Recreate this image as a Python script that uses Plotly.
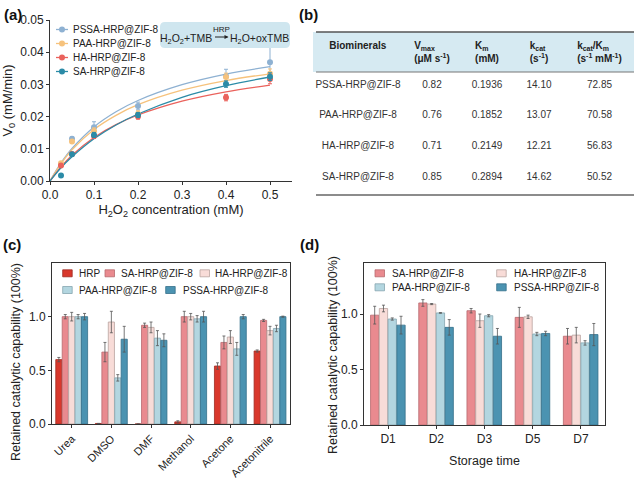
import plotly.graph_objects as go

W, H = 636, 479
def px(x): return x / W
def py(y): return 1 - y / H

FONT = "Arial, Liberation Sans, sans-serif"

# ---------------- Panel (a) data ----------------
conc = [0.025, 0.05, 0.1, 0.2, 0.4, 0.5]
v_pssa = [0.0051, 0.0131, 0.0167, 0.0233, 0.0325, 0.0369]
v_paa = [0.0055, 0.0123, 0.0155, 0.0208, 0.0323, 0.0333]
v_ha = [0.0048, 0.0084, 0.0140, 0.0200, 0.0259, 0.0317]
v_sa = [0.0017, 0.0083, 0.0143, 0.0205, 0.0301, 0.0324]
e_pssa = [0.0006, 0.0006, 0.0017, 0.0012, 0.0022, 0.0049]
e_paa = [0.0005, 0.0006, 0.0010, 0.0010, 0.0012, 0.0015]
e_ha = [0.0004, 0.0005, 0.0008, 0.0008, 0.0010, 0.0015]
e_sa = [0.0004, 0.0005, 0.0008, 0.0008, 0.0010, 0.0012]

fit_conc = [0, 0.025, 0.05, 0.1, 0.15, 0.2, 0.3, 0.4, 0.5]
fit_pssa = [0, 0.0056, 0.0101, 0.0168, 0.0215, 0.0250, 0.0299, 0.0332, 0.0355]
fit_paa = [0, 0.0054, 0.0097, 0.0160, 0.0204, 0.0237, 0.0282, 0.0312, 0.0333]
fit_ha = [0, 0.0044, 0.0080, 0.0135, 0.0175, 0.0205, 0.0248, 0.0277, 0.0298]
fit_sa = [0, 0.0041, 0.0075, 0.0131, 0.0174, 0.0208, 0.0260, 0.0296, 0.0323]

a_names = ["PSSA-HRP@ZIF-8", "PAA-HRP@ZIF-8", "HA-HRP@ZIF-8", "SA-HRP@ZIF-8"]
a_colors = ["#8eb1d2", "#f6c27c", "#ea625c", "#2b8ba7"]

# ---------------- Panel (b) data ----------------
tbl_headers = ["<b>Biominerals</b>",
               "<b>V<sub>max</sub><br>(μM s<sup>-1</sup>)</b>",
               "<b>K<sub>m</sub><br>(mM)</b>",
               "<b>k<sub>cat</sub><br>(s<sup>-1</sup>)</b>",
               "<b>k<sub>cat</sub>/K<sub>m</sub><br>(s<sup>-1</sup> mM<sup>-1</sup>)</b>"]
tbl_names = ["PSSA-HRP@ZIF-8", "PAA-HRP@ZIF-8", "HA-HRP@ZIF-8", "SA-HRP@ZIF-8"]
tbl_vmax = ["0.82", "0.76", "0.71", "0.85"]
tbl_km = ["0.1936", "0.1852", "0.2149", "0.2894"]
tbl_kcat = ["14.10", "13.07", "12.21", "14.62"]
tbl_eff = ["72.85", "70.58", "56.83", "50.52"]

# ---------------- Panel (c) data ----------------
solvents = ["Urea", "DMSO", "DMF", "Methanol", "Acetone", "Acetonitrile"]
c_names = ["HRP", "SA-HRP@ZIF-8", "HA-HRP@ZIF-8", "PAA-HRP@ZIF-8", "PSSA-HRP@ZIF-8"]
c_vals = [
    [0.60, 0.005, 0.0, 0.02, 0.54, 0.68],
    [1.00, 0.67, 0.92, 1.00, 0.76, 0.965],
    [1.00, 0.95, 0.90, 1.00, 0.81, 0.87],
    [1.00, 0.43, 0.80, 0.98, 0.70, 0.89],
    [1.00, 0.79, 0.78, 1.00, 1.00, 1.00],
]
c_errs = [
    [0.02, 0.0, 0.0, 0.01, 0.03, 0.01],
    [0.02, 0.09, 0.02, 0.05, 0.06, 0.01],
    [0.04, 0.10, 0.05, 0.03, 0.06, 0.04],
    [0.02, 0.03, 0.07, 0.03, 0.06, 0.03],
    [0.03, 0.12, 0.06, 0.05, 0.02, 0.005],
]
bar_colors = {"HRP": "#d9382c", "SA-HRP@ZIF-8": "#e98a8f", "HA-HRP@ZIF-8": "#f8dcd8",
              "PAA-HRP@ZIF-8": "#b3d6e0", "PSSA-HRP@ZIF-8": "#4b93b1"}
bar_lines = {"HRP": "#9e2b22", "SA-HRP@ZIF-8": "#b66a6f", "HA-HRP@ZIF-8": "#b9a3a0",
             "PAA-HRP@ZIF-8": "#86a6b0", "PSSA-HRP@ZIF-8": "#35708a"}

# ---------------- Panel (d) data ----------------
days = ["D1", "D2", "D3", "D5", "D7"]
d_names = ["SA-HRP@ZIF-8", "HA-HRP@ZIF-8", "PAA-HRP@ZIF-8", "PSSA-HRP@ZIF-8"]
d_vals = [
    [0.99, 1.10, 1.03, 0.97, 0.80],
    [1.05, 1.09, 0.94, 0.975, 0.81],
    [0.955, 1.01, 0.985, 0.82, 0.74],
    [0.90, 0.88, 0.80, 0.825, 0.815],
]
d_errs = [
    [0.08, 0.03, 0.02, 0.09, 0.07],
    [0.03, 0.005, 0.06, 0.015, 0.07],
    [0.01, 0.003, 0.01, 0.015, 0.02],
    [0.08, 0.07, 0.07, 0.02, 0.10],
]
retained_title = "Retained catalytic capability (100%)"

fig = go.Figure()

# ----- (a) traces -----
fits = [fit_pssa, fit_paa, fit_ha, fit_sa]
pts = [v_pssa, v_paa, v_ha, v_sa]
errs = [e_pssa, e_paa, e_ha, e_sa]
for name, col, f in zip(a_names, a_colors, fits):
    fig.add_trace(go.Scatter(x=fit_conc, y=f, mode="lines", line=dict(color=col, width=1.3, shape="spline"),
                             xaxis="x", yaxis="y", showlegend=False, name=name))
for name, col, v, e in zip(a_names, a_colors, pts, errs):
    fig.add_trace(go.Scatter(x=conc, y=v, mode="markers", marker=dict(color=col, size=6),
                             error_y=dict(type="data", array=e, color=col, thickness=1, width=2),
                             xaxis="x", yaxis="y", showlegend=False, name=name))

# ----- (b) table -----
fig.add_trace(go.Table(
    domain=dict(x=[px(313), px(634)], y=[py(198), py(32)]),
    columnwidth=[90, 58, 52, 52, 69],
    header=dict(values=tbl_headers, fill_color="#d6eaf2", line=dict(color="rgba(0,0,0,0)", width=0),
                align="center", font=dict(size=10, color="#222", family=FONT), height=40),
    cells=dict(values=[tbl_names, tbl_vmax, tbl_km, tbl_kcat, tbl_eff], fill_color="white",
               line=dict(color="rgba(0,0,0,0)", width=0), align="center",
               font=dict(size=10, color="#333", family=FONT), height=30.75),
))

# ----- (c) bars -----
for i, (name, v, e) in enumerate(zip(c_names, c_vals, c_errs)):
    fig.add_trace(go.Bar(x=solvents, y=v, name=name, xaxis="x2", yaxis="y2",
                         width=0.155, offset=-0.405 + i * 0.162,
                         marker=dict(color=bar_colors[name], line=dict(color=bar_lines[name], width=0.8)),
                         error_y=dict(type="data", array=e, color="#555", thickness=0.8, width=1.5),
                         showlegend=False))

# ----- (d) bars -----
for i, (name, v, e) in enumerate(zip(d_names, d_vals, d_errs)):
    fig.add_trace(go.Bar(x=days, y=v, name=name, xaxis="x3", yaxis="y3",
                         width=0.172, offset=-0.364 + i * 0.182,
                         marker=dict(color=bar_colors[name], line=dict(color=bar_lines[name], width=0.8)),
                         error_y=dict(type="data", array=e, color="#555", thickness=0.8, width=1.5),
                         showlegend=False))

axis_common = dict(showgrid=False, zeroline=False, showline=True, linecolor="#333", linewidth=1,
                   ticks="outside", ticklen=3, tickcolor="#333", tickwidth=1, automargin=False,
                   tickfont=dict(size=12, color="#222", family=FONT))

fig.update_layout(
    width=W, height=H, margin=dict(l=0, r=0, t=0, b=0, pad=0, autoexpand=False),
    paper_bgcolor="white", plot_bgcolor="white", barmode="overlay",
    showlegend=False,
    font=dict(family=FONT, color="#222"),
    xaxis=dict(domain=[px(50), px(292)], anchor="y", range=[0, 0.55],
               tickvals=[0, 0.1, 0.2, 0.3, 0.4, 0.5], tickformat=".1f",
               title=dict(text="H<sub>2</sub>O<sub>2</sub> concentration (mM)", font=dict(size=13), standoff=3),
               **axis_common),
    yaxis=dict(domain=[py(181), py(20)], anchor="x", range=[0, 0.05],
               tickvals=[0, 0.01, 0.02, 0.03, 0.04, 0.05], tickformat=".2f",
               title=dict(text="V<sub>0</sub> (mM/min)", font=dict(size=13), standoff=4),
               **axis_common),
    xaxis2=dict(domain=[px(52), px(290)], anchor="y2", tickangle=-45, mirror=True,
                range=[-0.5, 5.5], **{**axis_common, "tickfont": dict(size=11, color="#222", family=FONT)}),
    yaxis2=dict(domain=[py(424), py(263)], anchor="x2", range=[0, 1.5], mirror=True,
                tickvals=[0, 0.5, 1.0], tickformat=".1f", **axis_common),
    xaxis3=dict(domain=[px(364), px(605)], anchor="y3", mirror=True, range=[-0.5, 4.5],
                title=dict(text="Storage time", font=dict(size=12.5), standoff=10),
                **axis_common),
    yaxis3=dict(domain=[py(425), py(263)], anchor="x3", range=[0, 1.46], mirror=True,
                tickvals=[0, 0.5, 1.0], tickformat=".1f", **axis_common),
)

shapes = []
annots = []

# y-axis titles of (c) and (d), placed as in the reference (shifted below the axis centre)
for xx, yy in [(16, 362), (333, 355)]:
    annots.append(dict(text=retained_title, x=px(xx), y=py(yy), xref="paper", yref="paper",
                       xanchor="center", yanchor="middle", textangle=-90, showarrow=False,
                       font=dict(size=12.5, color="#222")))

# panel labels
for lab, x, y in [("(a)", 2, 15), ("(b)", 297, 15), ("(c)", 1, 244), ("(d)", 298, 244)]:
    annots.append(dict(text="<b>%s</b>" % lab, x=px(x), y=py(y), xref="paper", yref="paper",
                       xanchor="left", yanchor="middle", showarrow=False, font=dict(size=15, color="#111")))

# (a) reaction box (rounded)
x0, x1, y0, y1 = px(160), px(290), py(48), py(22)
rx, ry = 5 / W, 5 / H
path = (f"M{x0+rx},{y0} L{x1-rx},{y0} Q{x1},{y0} {x1},{y0+ry} L{x1},{y1-ry} Q{x1},{y1} {x1-rx},{y1} "
        f"L{x0+rx},{y1} Q{x0},{y1} {x0},{y1-ry} L{x0},{y0+ry} Q{x0},{y0} {x0+rx},{y0} Z")
shapes.append(dict(type="path", path=path, xref="paper", yref="paper", fillcolor="#cfe6ef",
                   line=dict(width=0), layer="above"))
annots.append(dict(text="H<sub>2</sub>O<sub>2</sub>+TMB", x=px(214), y=py(39), xref="paper", yref="paper",
                   xanchor="right", yanchor="middle", showarrow=False, font=dict(size=10.5, color="#222")))
annots.append(dict(text="H<sub>2</sub>O+oxTMB", x=px(228), y=py(39), xref="paper", yref="paper",
                   xanchor="left", yanchor="middle", showarrow=False, font=dict(size=10.5, color="#222")))
annots.append(dict(text="HRP", x=px(221), y=py(30), xref="paper", yref="paper",
                   xanchor="center", yanchor="middle", showarrow=False, font=dict(size=8, color="#222")))
annots.append(dict(text="", x=px(228.5), y=py(37), xref="paper", yref="paper", showarrow=True,
                   ax=-15, ay=0, arrowhead=2, arrowsize=0.8, arrowwidth=1, arrowcolor="#222"))

# (a) legend
for i, (name, col) in enumerate(zip(a_names, a_colors)):
    yy = [29.5, 43.5, 57.5, 71.5][i]
    shapes.append(dict(type="line", x0=px(56), x1=px(68), y0=py(yy), y1=py(yy), xref="paper", yref="paper",
                       line=dict(color=col, width=1.3)))
    shapes.append(dict(type="circle", x0=px(59), x1=px(65), y0=py(yy + 3), y1=py(yy - 3), xref="paper",
                       yref="paper", fillcolor=col, line=dict(width=0)))
    annots.append(dict(text=name, x=px(71), y=py(yy), xref="paper", yref="paper", xanchor="left",
                       yanchor="middle", showarrow=False, font=dict(size=10, color="#222")))

# (b) table rules
for yy, w, c in [(32, 1.5, "#555"), (72, 1, "#777"), (195, 1.5, "#666")]:
    shapes.append(dict(type="line", x0=px(316), x1=px(634), y0=py(yy), y1=py(yy), xref="paper", yref="paper",
                       line=dict(color=c, width=w)))

# (c) and (d) legends
c_leg = [("HRP", 62.7, 77, 273.3), ("SA-HRP@ZIF-8", 105, 119, 273.3), ("HA-HRP@ZIF-8", 200, 213, 273.3),
         ("PAA-HRP@ZIF-8", 62.7, 77, 290), ("PSSA-HRP@ZIF-8", 165.7, 180.5, 290)]
d_leg = [("SA-HRP@ZIF-8", 375, 390.5, 273.3), ("HA-HRP@ZIF-8", 496.7, 511.5, 273.3),
         ("PAA-HRP@ZIF-8", 375, 390.5, 287.3), ("PSSA-HRP@ZIF-8", 496.7, 511.5, 287.3)]
for name, sx, tx, yy in c_leg + d_leg:
    shapes.append(dict(type="rect", x0=px(sx), x1=px(sx + 9.5), y0=py(yy + 3.5), y1=py(yy - 3.5),
                       xref="paper", yref="paper", fillcolor=bar_colors[name],
                       line=dict(color=bar_lines[name], width=0.8)))
    annots.append(dict(text=name, x=px(tx), y=py(yy), xref="paper", yref="paper", xanchor="left",
                       yanchor="middle", showarrow=False, font=dict(size=10, color="#222")))

fig.update_layout(shapes=shapes, annotations=annots)
fig.write_html("out.html", config={"displayModeBar": False},
               post_script="document.body.style.margin='0px';document.body.style.overflow='hidden';")
